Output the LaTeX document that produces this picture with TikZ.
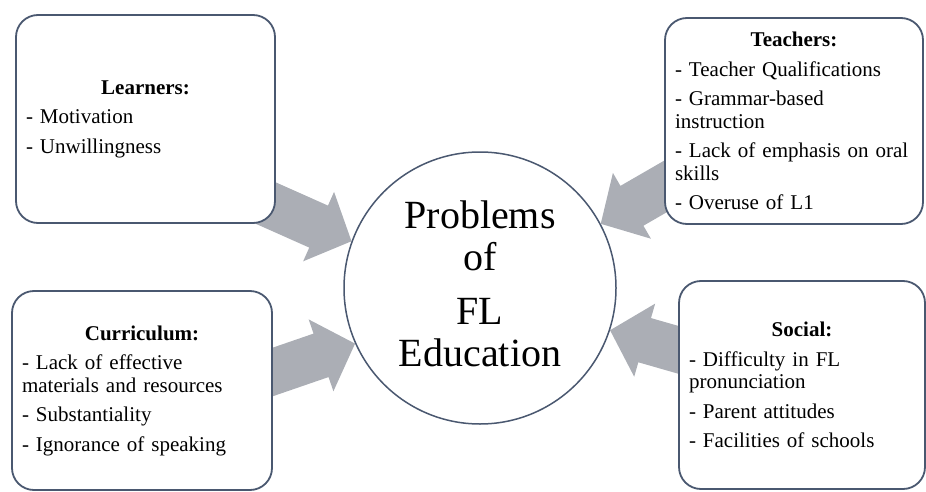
\documentclass[tikz,border=0pt]{standalone}
\usepackage{fontspec}
\setmainfont{Liberation Serif}
\usetikzlibrary{calc, backgrounds}
\definecolor{framecol}{HTML}{4A5870}
\definecolor{arrowcol}{HTML}{ABAEB5}
\tikzset{
  factor/.style={
	draw=framecol, line width=1.8pt, fill=white, % frame of each factor box
	rounded corners=22pt, % soft corners
	inner xsep=10pt, align=left,
	font=\fontsize{21}{22.5}\selectfont, % text of the lists
  },
  problem/.style={
	circle, draw=framecol, line width=1.5pt, fill=white,
	minimum size=272pt, align=center,
	font=\fontsize{40}{42}\selectfont, text depth=9pt, % centre the four lines
  },
  push/.style={fill=arrowcol, draw=none}, % the grey block arrows
}
% block arrow: tip at #1, tail pointing towards angle #2
\newcommand{\pusharrow}[2]{
  \path[push, shift={(#1)}, rotate=#2]
	(0,0) -- (36,38) -- (36,23) -- (110,23) -- (110,-23) -- (36,-23) -- (36,-38) -- cycle;
}

\begin{document}
\begin{tikzpicture}[x=1pt, y=1pt]
\useasboundingbox (0,0) rectangle (926,491);

\node[problem] (prob) at (480,203) {Problems\\of\\[12pt]FL\\Education};

\node[factor, minimum width=259pt, minimum height=208pt, text width=239pt] (learn) at (145.5,372)
	{\makebox[\hsize]{\textbf{Learners:}}\\[7pt]
	 - Motivation\\[7pt]
	 - Unwillingness};
\node[factor, minimum width=258pt, minimum height=206pt, text width=238pt] (teach) at (794,370)
	{\makebox[\hsize]{\textbf{Teachers:}}\\[7pt]
	 - Teacher Qualifications\\[7pt]
	 - Grammar-based\\instruction\\[7pt]
	 - Lack of emphasis on oral\\skills\\[7pt]
	 - Overuse of L1};
\node[factor, minimum width=260pt, minimum height=199pt, text width=240pt] (curr) at (142,100.5)
	{\makebox[\hsize]{\textbf{Curriculum:}}\\[7pt]
	 - Lack of effective\\materials and resources\\[7pt]
	 - Substantiality\\[7pt]
	 - Ignorance of speaking};
\node[factor, minimum width=246pt, minimum height=208pt, text width=226pt] (soc) at (802,106)
	{\makebox[\hsize]{\textbf{Social:}}\\[7pt]
	 - Difficulty in FL\\pronunciation\\[7pt]
	 - Parent attitudes\\[7pt]
	 - Facilities of schools};

% arrows sit under the boxes and the circle
\begin{scope}[on background layer]
\pusharrow{prob.160}{156}
\pusharrow{prob.28}{30}
\pusharrow{prob.204}{199}
\pusharrow{prob.342}{344}
\end{scope}
\end{tikzpicture}
\end{document}
